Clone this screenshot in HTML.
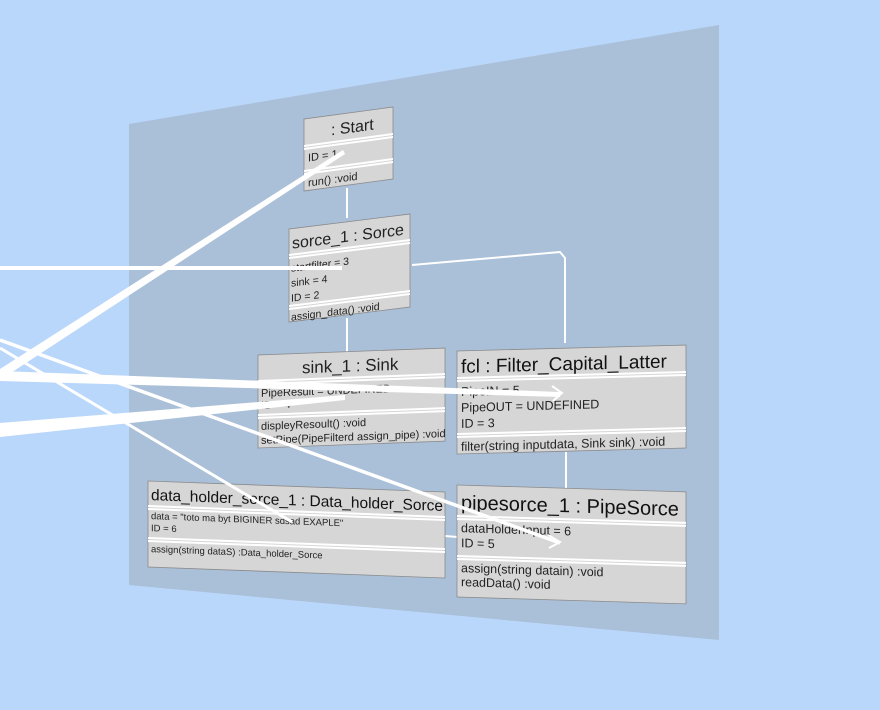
<!DOCTYPE html>
<html><head><meta charset="utf-8"><style>
html,body{margin:0;padding:0;background:#b9d6fb;}
svg{display:block;font-family:"Liberation Sans",sans-serif;}
</style></head><body>
<svg width="880" height="710" viewBox="0 0 880 710">
<rect width="880" height="710" fill="#b9d6fb"/>
<polygon points="129,124 719,25 719,640 129,585" fill="#aabfd8"/>
<g stroke="#fff" stroke-width="2" fill="none">
<line x1="347" y1="188" x2="347" y2="218"/>
<line x1="347" y1="318" x2="347" y2="352"/>
<polyline points="412,265 560,252 565,258 565,343"/>
<line x1="566" y1="452" x2="566" y2="489"/>
<line x1="445" y1="536" x2="458" y2="537"/>
</g>
<defs><style>
.bx{fill:#d6d6d6;stroke:#8a8a8a;stroke-width:0.8}
.sep{stroke:#fff;stroke-width:2}
</style></defs>
<g transform="matrix(1,-0.135,0,1,304,119)">
<rect class="bx" width="89" height="72"/>
<text x="27" y="20" font-size="16" fill="#222">: Start</text>
<line class="sep" x1="0" y1="27" x2="89" y2="27"/><line class="sep" x1="0" y1="30" x2="89" y2="30"/>
<text x="4" y="43" font-size="11" fill="#222">ID = 1</text>
<line class="sep" x1="0" y1="52" x2="89" y2="52"/><line class="sep" x1="0" y1="55" x2="89" y2="55"/>
<text x="4" y="68" font-size="11" fill="#222">run() :void</text>
</g>
<g transform="matrix(1,-0.124,0,1,289,229)">
<rect class="bx" width="121" height="93"/>
<text x="3" y="20" font-size="16" fill="#222">sorce_1 : Sorce</text>
<line class="sep" x1="0" y1="26" x2="121" y2="26"/><line class="sep" x1="0" y1="29" x2="121" y2="29"/>
<text x="2" y="43" font-size="10.5" fill="#222">startfilter = 3</text>
<text x="2" y="58" font-size="10.5" fill="#222">sink = 4</text>
<text x="2" y="73" font-size="10.5" fill="#222">ID = 2</text>
<line class="sep" x1="0" y1="77" x2="121" y2="77"/><line class="sep" x1="0" y1="80" x2="121" y2="80"/>
<text x="2" y="92" font-size="10.5" fill="#222">assign_data() :void</text>
</g>
<g transform="matrix(1,-0.037,0,1,258,355)">
<rect class="bx" width="187" height="93"/>
<text x="44" y="20" font-size="17" fill="#222">sink_1 : Sink</text>
<line class="sep" x1="0" y1="26" x2="187" y2="26"/><line class="sep" x1="0" y1="29" x2="187" y2="29"/>
<text x="3" y="42" font-size="11" fill="#222">PipeResult = UNDEFINED</text>
<text x="3" y="54" font-size="11" fill="#222">ID = 4</text>
<line class="sep" x1="0" y1="60" x2="187" y2="60"/><line class="sep" x1="0" y1="63" x2="187" y2="63"/>
<text x="3" y="75" font-size="11" fill="#222">displeyResoult() :void</text>
<text x="3" y="89" font-size="11" fill="#222">setPipe(PipeFilterd assign_pipe) :void</text>
</g>
<g transform="matrix(1,-0.026,0,1,457,351)">
<rect class="bx" width="229" height="103"/>
<text x="4" y="22" font-size="19" fill="#111">fcl : Filter_Capital_Latter</text>
<line class="sep" x1="0" y1="27" x2="229" y2="27"/><line class="sep" x1="0" y1="30" x2="229" y2="30"/>
<text x="4" y="45" font-size="12.5" fill="#222">PipeIN = 5</text>
<text x="4" y="61" font-size="12.5" fill="#222">PipeOUT = UNDEFINED</text>
<text x="4" y="77" font-size="12.5" fill="#222">ID = 3</text>
<line class="sep" x1="0" y1="83" x2="229" y2="83"/><line class="sep" x1="0" y1="86" x2="229" y2="86"/>
<text x="4" y="100" font-size="12.5" fill="#222">filter(string inputdata, Sink sink) :void</text>
</g>
<g transform="matrix(1,0.037,0,1,148,481)">
<rect class="bx" width="297" height="86"/>
<text x="3" y="19" font-size="15.5" fill="#111">data_holder_sorce_1 : Data_holder_Sorce</text>
<line class="sep" x1="0" y1="25" x2="297" y2="25"/><line class="sep" x1="0" y1="28" x2="297" y2="28"/>
<text x="3" y="38" font-size="9.5" fill="#222">data = "toto ma byt BIGINER sdsad EXAPLE"</text>
<text x="3" y="50" font-size="9.5" fill="#222">ID = 6</text>
<line class="sep" x1="0" y1="57" x2="297" y2="57"/><line class="sep" x1="0" y1="60" x2="297" y2="60"/>
<text x="3" y="71" font-size="9.5" fill="#222">assign(string dataS) :Data_holder_Sorce</text>
</g>
<g transform="matrix(1,0.03,0,1,457,485)">
<rect class="bx" width="229" height="112"/>
<text x="4" y="24" font-size="20" fill="#111">pipesorce_1 : PipeSorce</text>
<line class="sep" x1="0" y1="31" x2="229" y2="31"/><line class="sep" x1="0" y1="34" x2="229" y2="34"/>
<text x="4" y="47" font-size="12.5" fill="#222">dataHolderInput = 6</text>
<text x="4" y="62" font-size="12.5" fill="#222">ID = 5</text>
<line class="sep" x1="0" y1="71" x2="229" y2="71"/><line class="sep" x1="0" y1="74" x2="229" y2="74"/>
<text x="4" y="87" font-size="12.5" fill="#222">assign(string datain) :void</text>
<text x="4" y="101" font-size="12.5" fill="#222">readData() :void</text>
</g>
<g stroke="#fff" fill="none" stroke-linecap="butt">
<line x1="0" y1="268" x2="342" y2="268" stroke-width="4"/>
<polygon points="0,369 0,380 345,154 343,150" fill="#fff" stroke="none"/>
<polygon points="0,371 0,381 560,397 560,392" fill="#fff" stroke="none"/>
<line x1="0" y1="340" x2="560" y2="543" stroke-width="3.5"/>
<line x1="0" y1="348" x2="292" y2="522" stroke-width="3"/>
<polygon points="0,423 0,437 345,400 345,395" fill="#fff" stroke="none"/>
<polyline points="552,386 562,393 553,401" stroke-width="2"/>
<polyline points="548,535 560,542 549,548" stroke-width="2"/>
</g>
</svg>
</body></html>
